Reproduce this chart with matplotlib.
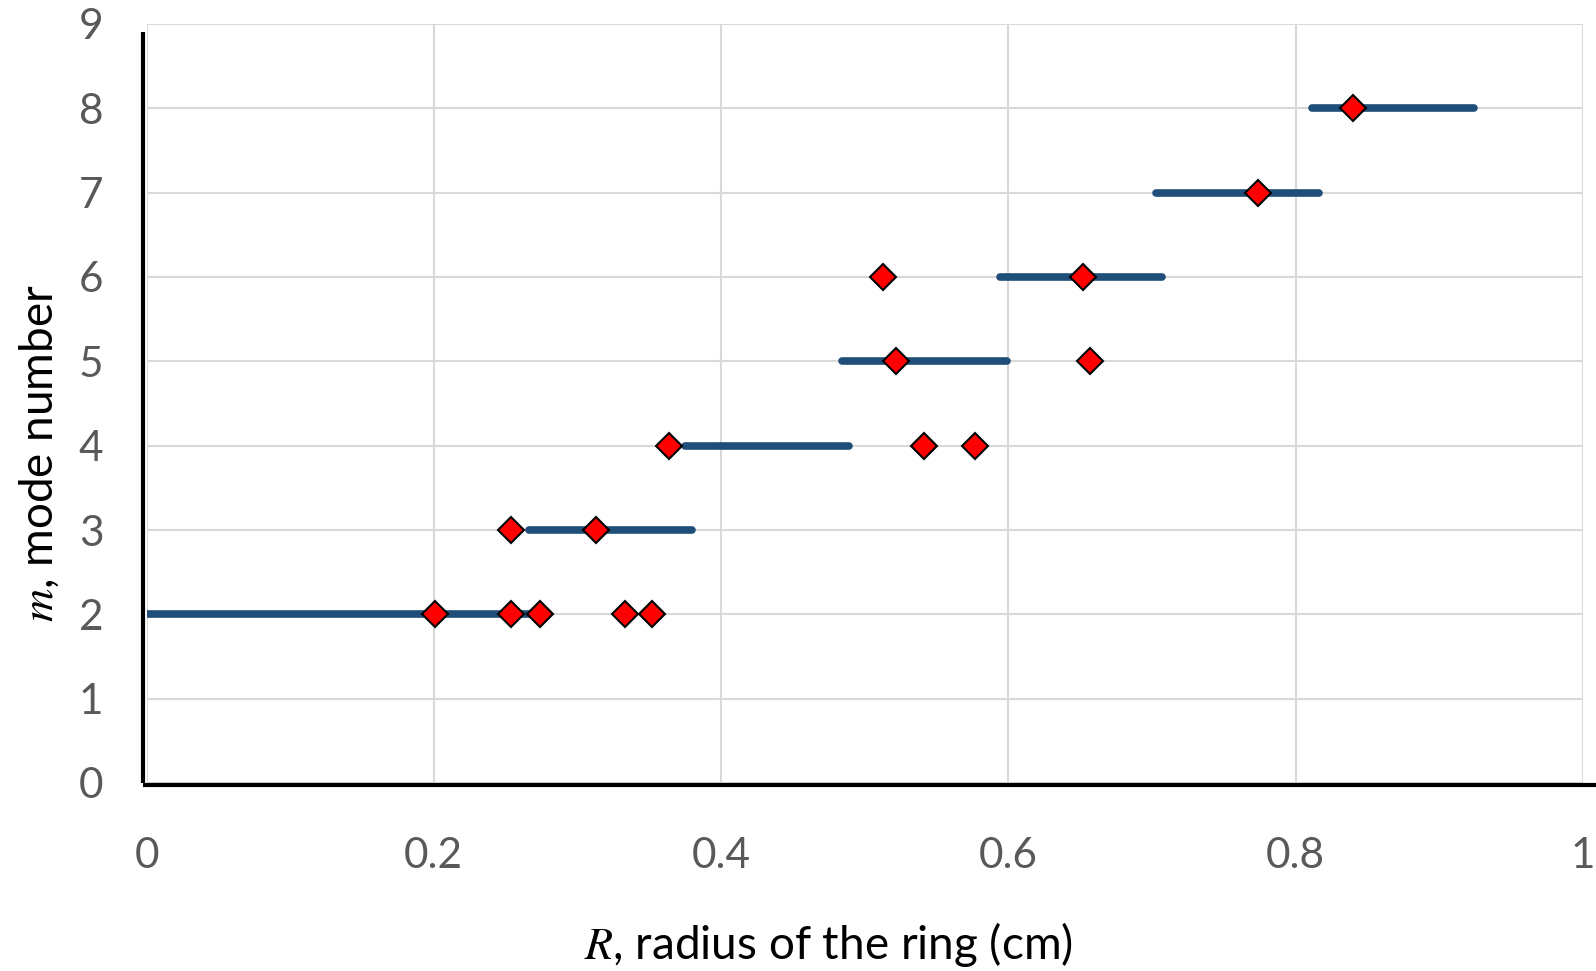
import matplotlib
matplotlib.use("Agg")
import matplotlib.pyplot as plt

# ---- data ----
# horizontal range bars: (mode number, R start, R end)
bar_modes = [2, 3, 4, 5, 6, 7, 8]
bar_start = [0.0, 0.266, 0.375, 0.484, 0.594, 0.703, 0.811]
bar_end = [0.266, 0.380, 0.489, 0.599, 0.707, 0.816, 0.924]

# measured points
pt_R = [0.201, 0.254, 0.274, 0.333, 0.352,
        0.254, 0.313,
        0.364, 0.541, 0.577,
        0.522, 0.657,
        0.513, 0.652,
        0.774,
        0.840]
pt_m = [2, 2, 2, 2, 2,
        3, 3,
        4, 4, 4,
        5, 5,
        6, 6,
        7,
        8]

x_ticks = [0, 0.2, 0.4, 0.6, 0.8, 1]
x_tick_labels = ["0", "0.2", "0.4", "0.6", "0.8", "1"]
y_ticks = list(range(0, 10))
y_tick_labels = [str(v) for v in y_ticks]

plt.rcParams['font.family'] = ['Lato', 'DejaVu Sans']
plt.rcParams['mathtext.fontset'] = 'stix'

fig = plt.figure(figsize=(15.96, 9.71), dpi=100)
ax = fig.add_axes([146.5 / 1596, 1 - 783 / 971, (1583 - 146.5) / 1596, (783 - 24) / 971])

ax.set_xlim(0, 1)
ax.set_ylim(0, 9)
ax.set_xticks(x_ticks)
ax.set_xticklabels(x_tick_labels)
ax.set_yticks(y_ticks)
ax.set_yticklabels(y_tick_labels)
ax.tick_params(axis='both', length=0, labelsize=30.5, colors='#595959')
ax.tick_params(axis='x', pad=39)
ax.tick_params(axis='y', pad=31)
ax.grid(True, color='#D9D9D9', linewidth=1.5)
ax.set_axisbelow(True)
for s in ax.spines.values():
    s.set_visible(False)

# black axis lines (decorative)
ax.plot([-0.0025, -0.0025], [0.989, 0.0], transform=ax.transAxes, color='black',
        linewidth=3, clip_on=False, solid_capstyle='butt', zorder=5)
ax.plot([-0.0025, 1.01], [-0.002, -0.002], transform=ax.transAxes, color='black',
        linewidth=3, clip_on=False, solid_capstyle='butt', zorder=5)

for m, a, b in zip(bar_modes, bar_start, bar_end):
    ax.plot([a, b], [m, m], color='#1F4E79', linewidth=5.5, solid_capstyle='round', zorder=3)

ax.plot(pt_R, pt_m, linestyle='none', marker='D', markersize=13.5,
        markerfacecolor='#FF0000', markeredgecolor='black', markeredgewidth=1.5, zorder=4)

fig.text(828 / 1596, 1 - 944 / 971, r"$R$, radius of the ring (cm)", fontsize=33,
         ha='center', va='center', color='black')
fig.text(39 / 1596, 1 - 453 / 971, r"$m$, mode number", fontsize=33,
         ha='center', va='center', rotation=90, color='black')

fig.savefig("out.png", dpi=100)
